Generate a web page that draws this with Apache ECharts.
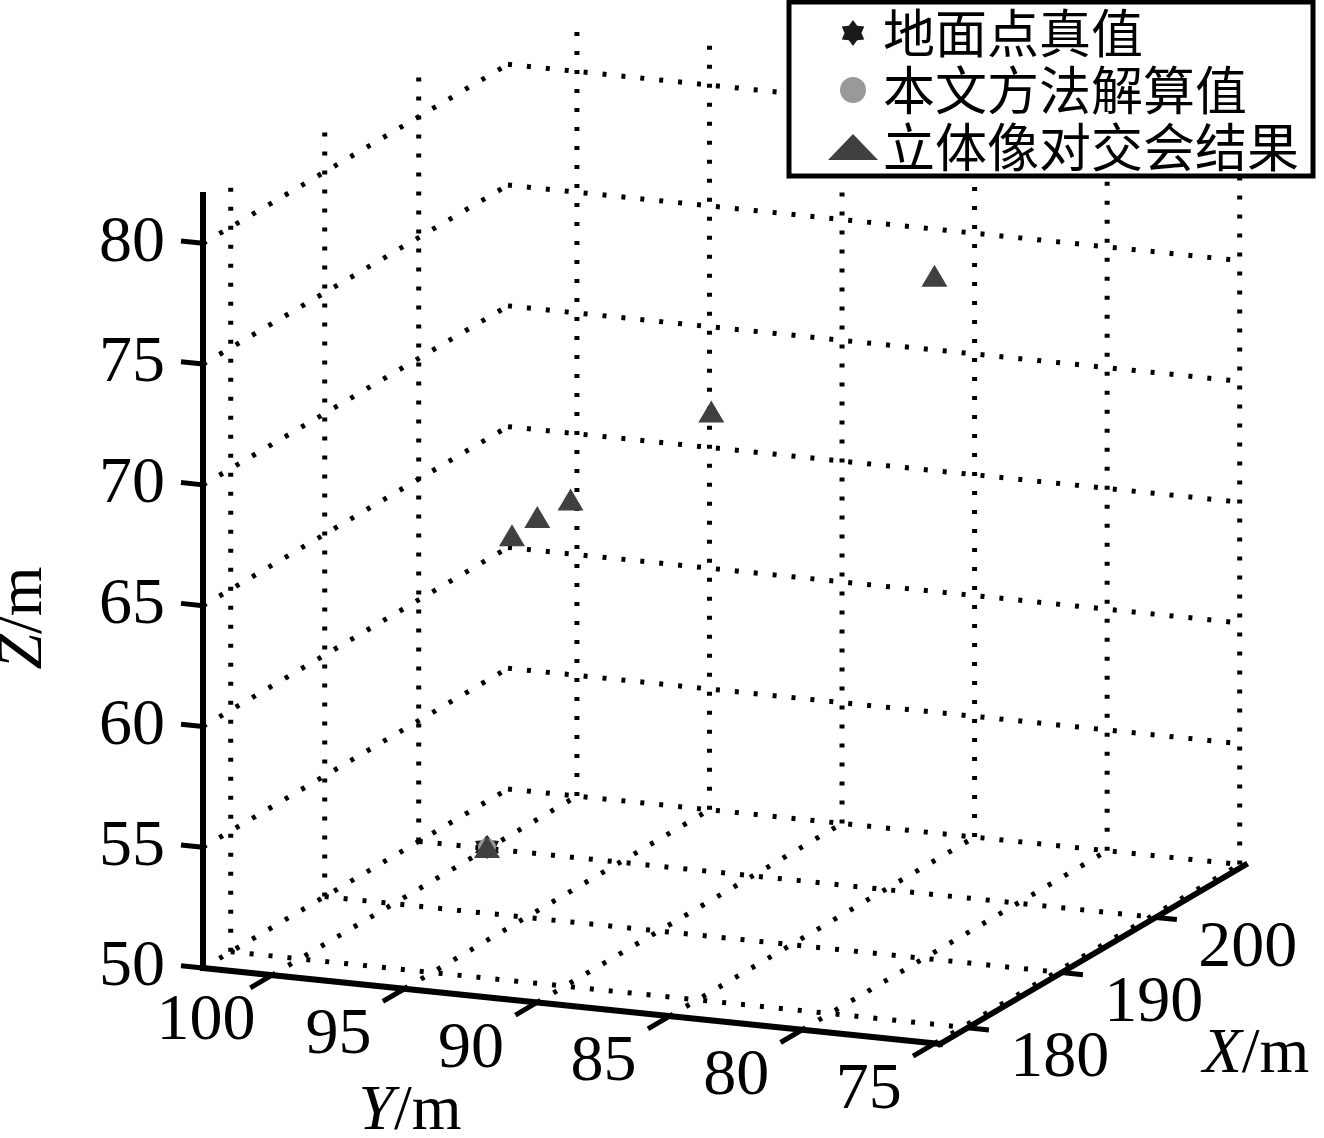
<!DOCTYPE html>
<html>
<head>
<meta charset="utf-8">
<script src="https://cdn.jsdelivr.net/npm/echarts@6/dist/echarts.min.js"></script>
<style>
html, body { margin: 0; padding: 0; background: #fff; }
#main { width: 1324px; height: 1138px; }
</style>
</head>
<body>
<div id="main"></div>
<script>
// axis limits and ticks of the 3D box
var xLim = [177.05, 209.5];
var yLim = [74.8, 102.6];
var zLim = [50, 82];
var xTicks = [180, 190, 200];
var yTicks = [100, 95, 90, 85, 80, 75];
var zTicks = [50, 55, 60, 65, 70, 75, 80];

// points [X, Y, Z]
var truthPts = [[181.6, 93.5, 55.0]];
var solvedPts = [[181.6, 93.5, 55.0]];
var stereoPts = [[181.6, 93.5, 55.0], [182.0, 92.7, 67.9], [183.0, 92.1, 68.5], [184.0, 91.2, 69.1], [186.0, 86.6, 72.8], [190.0, 79.6, 78.3]];

var seriesNames = ['地面点真值', '本文方法解算值', '立体像对交会结果'];

// view: origin at (xmin, ymax, zmin), screen vectors spanning each full axis
var origin = [203, 968];
var vecX = [305, -179];
var vecY = [737, 76];
var vecZ = [0, -773];

function proj(x, y, z) {
	var fx = (x - xLim[0]) / (xLim[1] - xLim[0]);
	var fy = (yLim[1] - y) / (yLim[1] - yLim[0]);
	var fz = (z - zLim[0]) / (zLim[1] - zLim[0]);
	return [
		origin[0] + fx * vecX[0] + fy * vecY[0] + fz * vecZ[0],
		origin[1] + fx * vecX[1] + fy * vecY[1] + fz * vecZ[1]
	];
}

function seg(a, b) {
	var p = proj(a[0], a[1], a[2]);
	var q = proj(b[0], b[1], b[2]);
	return [p[0], p[1], q[0], q[1]];
}

// dotted grid on back walls and floor
var gridSegs = [];
zTicks.forEach(function(z) {
	gridSegs.push(seg([xLim[0], yLim[1], z], [xLim[1], yLim[1], z]));
	gridSegs.push(seg([xLim[1], yLim[1], z], [xLim[1], yLim[0], z]));
});
xTicks.forEach(function(x) {
	gridSegs.push(seg([x, yLim[1], zLim[0]], [x, yLim[1], zLim[1]]));
	gridSegs.push(seg([x, yLim[1], zLim[0]], [x, yLim[0], zLim[0]]));
});
yTicks.forEach(function(y) {
	gridSegs.push(seg([xLim[1], y, zLim[0]], [xLim[1], y, zLim[1]]));
	gridSegs.push(seg([xLim[0], y, zLim[0]], [xLim[1], y, zLim[0]]));
});

// solid axes
var axisSegs = [
	seg([xLim[0], yLim[1], zLim[0]], [xLim[0], yLim[1], zLim[1]]),
	seg([xLim[0], yLim[1], zLim[0]], [xLim[0], yLim[0], zLim[0]]),
	seg([xLim[0], yLim[0], zLim[0]], [xLim[1], yLim[0], zLim[0]])
];

var tickSegs = [];
zTicks.forEach(function(z) {
	tickSegs.push(seg([xLim[0], yLim[1], z], [xLim[0], yLim[1] + 0.83, z]));
});
yTicks.forEach(function(y) {
	tickSegs.push(seg([xLim[0], y, zLim[0]], [xLim[0] - 2.3, y, zLim[0]]));
});
xTicks.forEach(function(x) {
	tickSegs.push(seg([x, yLim[0], zLim[0]], [x, yLim[0] - 0.8, zLim[0]]));
});

// tick labels: projected anchor + text
var labels = [];
zTicks.forEach(function(z) {
	var p = proj(xLim[0], yLim[1], z);
	labels.push({ pos: [p[0] - 38, p[1]], text: String(z), align: 'right' });
});
yTicks.forEach(function(y) {
	var p = proj(xLim[0], y, zLim[0]);
	labels.push({ pos: [p[0] - 66, p[1] + 47], text: String(y), align: 'center' });
});
xTicks.forEach(function(x) {
	var p = proj(x, yLim[0], zLim[0]);
	labels.push({ pos: [p[0] + 92, p[1] + 31], text: String(x), align: 'center' });
});
var titles = [
	{ pos: [24, 618], text: '{i|Z}/m', rotate: Math.PI / 2 },
	{ pos: [410, 1112], text: '{i|Y}/m', rotate: 0 },
	{ pos: [1256, 1055], text: '{i|X}/m', rotate: 0 }
];

var numFont = 'Liberation Serif';

function segRenderer(style) {
	return function(params, api) {
		var p = api.coord([api.value(0), api.value(1)]);
		var q = api.coord([api.value(2), api.value(3)]);
		return {
			type: 'line',
			shape: { x1: p[0], y1: p[1], x2: q[0], y2: q[1] },
			style: style
		};
	};
}

function toPts(list) {
	return list.map(function(d) { return proj(d[0], d[1], d[2]); });
}

// hexagram marker for the ground truth
var starPath = (function() {
	var s = 'path://';
	for (var i = 0; i < 12; i++) {
		var r = i % 2 === 0 ? 10 : 6.5;
		var a = Math.PI / 2 + i * Math.PI / 6;
		s += (i === 0 ? 'M' : 'L') + (10 + r * Math.cos(a)).toFixed(2) + ' ' + (10 - r * Math.sin(a)).toFixed(2);
	}
	return s + 'Z';
})();

var chart = echarts.init(document.getElementById('main'));
chart.setOption({
	animation: false,
	backgroundColor: '#fff',
	grid: { left: 0, right: 0, top: 0, bottom: 0 },
	xAxis: { type: 'value', min: 0, max: 1324, show: false },
	yAxis: { type: 'value', min: 0, max: 1138, inverse: true, show: false },
	legend: {
		data: seriesNames,
		orient: 'vertical',
		left: 789,
		top: 2,
		padding: [5, 14, 3, 39],
		itemGap: 5,
		itemWidth: 50,
		itemHeight: 26,
		borderColor: '#000',
		borderWidth: 5,
		backgroundColor: '#fff',
		selectedMode: false,
		textStyle: { fontFamily: 'Noto Sans CJK SC', fontSize: 52, lineHeight: 52, color: '#000' }
	},
	series: [
		{
			type: 'custom',
			silent: true,
			clip: false,
			renderItem: segRenderer({ stroke: '#000', lineWidth: 5, lineDash: [4, 15], lineCap: 'butt' }),
			encode: { x: [0, 2], y: [1, 3] },
			data: gridSegs,
			z: 1
		},
		{
			type: 'custom',
			silent: true,
			clip: false,
			renderItem: segRenderer({ stroke: '#000', lineWidth: 6, lineCap: 'square' }),
			encode: { x: [0, 2], y: [1, 3] },
			data: axisSegs,
			z: 2
		},
		{
			type: 'custom',
			silent: true,
			clip: false,
			renderItem: segRenderer({ stroke: '#000', lineWidth: 5 }),
			encode: { x: [0, 2], y: [1, 3] },
			data: tickSegs,
			z: 2
		},
		{
			type: 'custom',
			silent: true,
			clip: false,
			renderItem: function(params, api) {
				var l = labels[params.dataIndex];
				var p = api.coord([api.value(0), api.value(1)]);
				return {
					type: 'text',
					x: p[0], y: p[1],
					style: {
						text: l.text,
						fill: '#000',
						font: '66px "' + numFont + '"',
						align: l.align,
						verticalAlign: 'middle'
					}
				};
			},
			data: labels.map(function(l) { return l.pos; }),
			z: 3
		},
		{
			type: 'custom',
			silent: true,
			clip: false,
			renderItem: function(params, api) {
				var t = titles[params.dataIndex];
				var p = api.coord([api.value(0), api.value(1)]);
				return {
					type: 'text',
					x: p[0], y: p[1],
					rotation: t.rotate,
					style: {
						text: t.text,
						fill: '#000',
						fontFamily: numFont,
						fontSize: 64,
						align: 'center',
						verticalAlign: 'middle',
						rich: { i: { fontFamily: numFont, fontSize: 64, fontStyle: 'italic' } }
					}
				};
			},
			data: titles.map(function(t) { return t.pos; }),
			z: 3
		},
		{
			name: seriesNames[0],
			type: 'scatter',
			symbol: starPath,
			symbolSize: 24,
			itemStyle: { color: '#1a1a1a', opacity: 1 },
			data: toPts(truthPts),
			z: 4
		},
		{
			name: seriesNames[1],
			type: 'scatter',
			symbol: 'circle',
			symbolSize: 18,
			itemStyle: { color: '#999999', opacity: 1 },
			data: toPts(solvedPts),
			z: 5
		},
		{
			name: seriesNames[2],
			type: 'scatter',
			symbol: 'triangle',
			symbolSize: [26, 22],
			itemStyle: { color: '#404040', opacity: 1 },
			data: toPts(stereoPts),
			z: 6
		}
	]
});
</script>
</body>
</html>
